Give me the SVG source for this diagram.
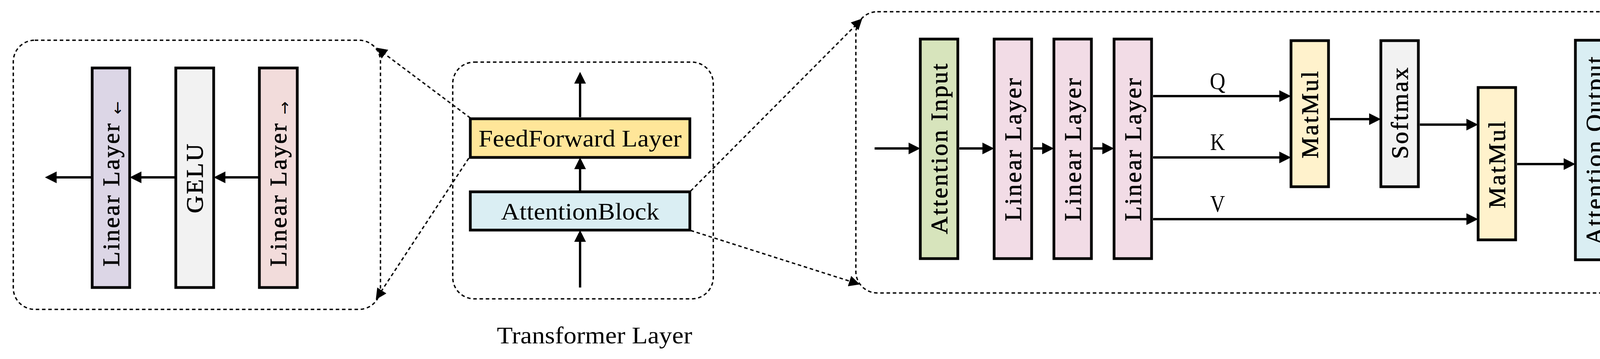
<svg xmlns="http://www.w3.org/2000/svg" width="4299" height="919" viewBox="0 0 4299 919">
<style>
.b{stroke:#000;stroke-width:7}
.t{font-family:"Liberation Serif",serif;font-size:62px;letter-spacing:4px;fill:#000;stroke:#000;stroke-width:1;text-anchor:middle;dominant-baseline:central}
.s{font-family:"DejaVu Sans",sans-serif;font-size:40px;fill:#000;text-anchor:middle;dominant-baseline:central}
.h{font-family:"Liberation Serif",serif;font-size:62px;fill:#000;text-anchor:middle}
.a{stroke:#000;stroke-width:6;fill:none;marker-end:url(#ah)}
.d{stroke:#000;stroke-width:3.5;fill:none;stroke-dasharray:9 7}
.dm{stroke:#000;stroke-width:3.5;fill:none;stroke-dasharray:9 7;marker-end:url(#dh)}
</style>
<defs>
<marker id="ah" markerWidth="5" markerHeight="5" refX="4" refY="2.5" orient="auto" markerUnits="strokeWidth"><path d="M0,0 L5,2.5 L0,5 z" fill="#000"/></marker>
<marker id="dh" markerWidth="8" markerHeight="8" refX="7" refY="4" orient="auto" markerUnits="strokeWidth"><path d="M0,0 L8,4 L0,8 z" fill="#000"/></marker>
</defs>
<rect class="d" x="34" y="103" width="940" height="689" rx="55"/>
<rect class="d" x="1159" y="159" width="667" height="606" rx="55"/>
<rect class="d" x="2191" y="30" width="2071" height="720" rx="55"/>
<g id="ff_lin2"><rect class="b" x="236" y="174" width="96" height="562" fill="#dcd6e6"/><text class="t" transform="translate(284,497) rotate(-90)">Linear Layer</text><text class="s" transform="translate(300,276) rotate(-90)">←</text></g>
<g id="ff_gelu"><rect class="b" x="450" y="174" width="97" height="562" fill="#f2f2f2"/><text class="t" transform="translate(498,455) rotate(-90)">GELU</text></g>
<g id="ff_lin1"><rect class="b" x="664" y="174" width="97" height="562" fill="#f2dcdb"/><text class="t" transform="translate(712,497) rotate(-90)">Linear Layer</text><text class="s" transform="translate(728,276) rotate(-90)">→</text></g>
<g id="feedforward"><rect class="b" x="1204" y="304" width="562" height="99" fill="#ffe699"/><text class="h" x="1485" y="375" textLength="520" lengthAdjust="spacingAndGlyphs">FeedForward Layer</text></g>
<g id="attentionblock"><rect class="b" x="1204" y="491" width="562" height="98" fill="#daeef3"/><text class="h" x="1485" y="562" textLength="405" lengthAdjust="spacingAndGlyphs">AttentionBlock</text></g>
<text class="h" x="1522" y="879" textLength="500" lengthAdjust="spacingAndGlyphs">Transformer Layer</text>
<g id="att_in"><rect class="b" x="2356" y="100" width="96" height="562" fill="#d7e4bc"/><text class="t" transform="translate(2404,379) rotate(-90)">Attention Input</text></g>
<g id="lin_a"><rect class="b" x="2545" y="100" width="96" height="562" fill="#f2dce6"/><text class="t" transform="translate(2593,381) rotate(-90)">Linear Layer</text></g>
<g id="lin_b"><rect class="b" x="2698" y="100" width="96" height="562" fill="#f2dce6"/><text class="t" transform="translate(2746,381) rotate(-90)">Linear Layer</text></g>
<g id="lin_c"><rect class="b" x="2852" y="100" width="96" height="562" fill="#f2dce6"/><text class="t" transform="translate(2900,381) rotate(-90)">Linear Layer</text></g>
<g id="matmul1"><rect class="b" x="3305" y="104" width="96" height="374" fill="#fff2cc"/><text class="t" transform="translate(3353,292) rotate(-90)">MatMul</text></g>
<g id="softmax"><rect class="b" x="3535" y="104" width="96" height="374" fill="#f2f2f2"/><text class="t" transform="translate(3583,288) rotate(-90)">Softmax</text></g>
<g id="matmul2"><rect class="b" x="3784" y="224" width="96" height="390" fill="#fff2cc"/><text class="t" transform="translate(3832,420) rotate(-90)">MatMul</text></g>
<g id="att_out"><rect class="b" x="4033" y="103" width="96" height="562" fill="#daeef3"/><text class="t" transform="translate(4081,384) rotate(-90)">Attention Output</text></g>
<text class="h" x="3117" y="228" textLength="40" lengthAdjust="spacingAndGlyphs">Q</text>
<text class="h" x="3117" y="384" textLength="38" lengthAdjust="spacingAndGlyphs">K</text>
<text class="h" x="3117" y="542" textLength="38" lengthAdjust="spacingAndGlyphs">V</text>
<g id="connectors">
<line class="a" x1="664" y1="454" x2="553" y2="454"/>
<line class="a" x1="450" y1="454" x2="338" y2="454"/>
<line class="a" x1="236" y1="454" x2="121" y2="454"/>
<line class="a" x1="1485" y1="736" x2="1485" y2="595"/>
<line class="a" x1="1485" y1="491" x2="1485" y2="409"/>
<line class="a" x1="1485" y1="300" x2="1485" y2="190"/>
<line class="dm" x1="1204" y1="302" x2="966" y2="124"/>
<line class="dm" x1="1200" y1="405" x2="964" y2="764"/>
<line class="dm" x1="1768" y1="489" x2="2205" y2="50"/>
<line class="dm" x1="1768" y1="590" x2="2198" y2="727"/>
<line class="a" x1="2239" y1="380" x2="2350" y2="380"/>
<line class="a" x1="2456" y1="380" x2="2539" y2="380"/>
<line class="a" x1="2645" y1="380" x2="2692" y2="380"/>
<line class="a" x1="2798" y1="380" x2="2846" y2="380"/>
<line class="a" x1="2952" y1="246" x2="3299" y2="246"/>
<line class="a" x1="2952" y1="403" x2="3299" y2="403"/>
<line class="a" x1="2952" y1="561" x2="3778" y2="561"/>
<line class="a" x1="3405" y1="305" x2="3529" y2="305"/>
<line class="a" x1="3635" y1="319" x2="3778" y2="319"/>
<line class="a" x1="3884" y1="420" x2="4027" y2="420"/>
<line class="a" x1="4133" y1="384" x2="4250" y2="384"/>
</g>
</svg>
